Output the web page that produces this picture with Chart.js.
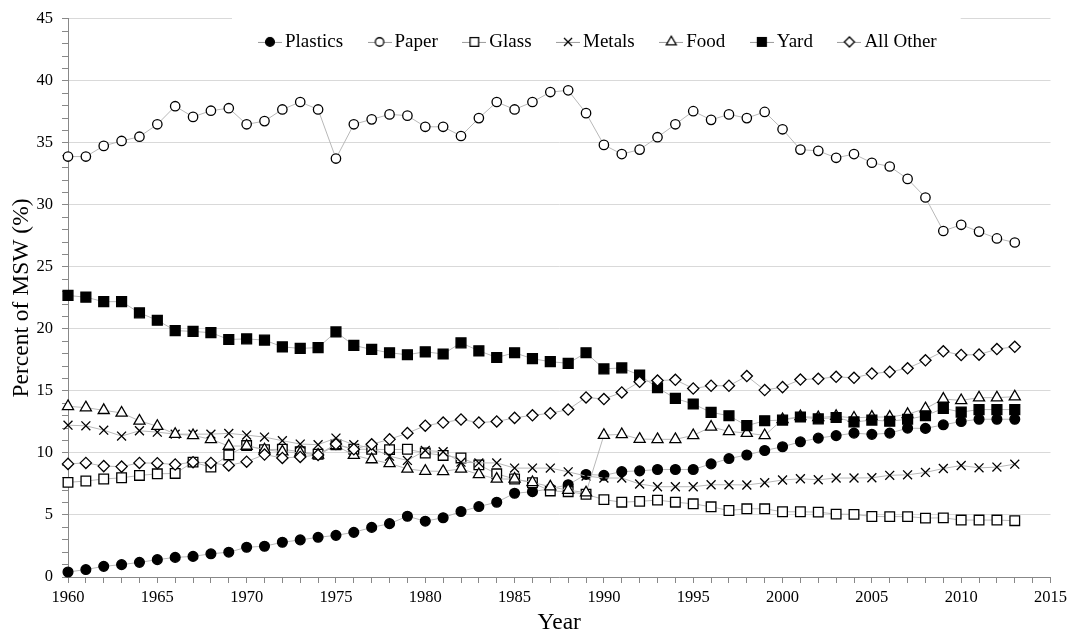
<!DOCTYPE html>
<html>
<head>
<meta charset="utf-8">
<script src="https://cdn.jsdelivr.net/npm/chart.js@4.4.1/dist/chart.umd.min.js"></script>
<style>
html,body{margin:0;padding:0;background:#fff;}
canvas{display:block;}
</style>
</head>
<body>
<canvas id="c" width="1072" height="639"></canvas>
<script>
const years = [1960,1961,1962,1963,1964,1965,1966,1967,1968,1969,
  1970,1971,1972,1973,1974,1975,1976,1977,1978,1979,
  1980,1981,1982,1983,1984,1985,1986,1987,1988,1989,
  1990,1991,1992,1993,1994,1995,1996,1997,1998,1999,
  2000,2001,2002,2003,2004,2005,2006,2007,2008,2009,
  2010,2011,2012,2013];

const seriesNames = ['Plastics','Paper','Glass','Metals','Food','Yard','All Other'];

const plastics = [0.4,0.6,0.86,1.0,1.18,1.4,1.58,1.66,1.87,2.0,
  2.4,2.48,2.8,2.99,3.2,3.36,3.6,4.0,4.3,4.9,
  4.5,4.78,5.28,5.68,6.03,6.75,6.88,7.12,7.44,8.27,
  8.2,8.5,8.56,8.67,8.67,8.67,9.12,9.55,9.84,10.2,
  10.5,10.9,11.2,11.4,11.6,11.5,11.6,12.0,11.98,12.27,
  12.54,12.72,12.72,12.72];

const paper = [33.9,33.9,34.76,35.16,35.5,36.5,37.96,37.1,37.6,37.8,
  36.5,36.76,37.7,38.3,37.7,33.74,36.5,36.9,37.3,37.2,
  36.3,36.3,35.56,37.0,38.3,37.7,38.3,39.1,39.24,37.4,
  34.84,34.1,34.46,35.46,36.5,37.56,36.86,37.3,37.0,37.5,
  36.1,34.46,34.36,33.8,34.1,33.4,33.1,32.1,30.6,27.9,
  28.4,27.85,27.3,26.97];

const glass = [7.63,7.74,7.9,8.0,8.19,8.32,8.35,9.26,8.86,9.84,
  10.6,10.27,10.3,10.1,9.9,10.67,10.3,10.3,10.27,10.3,
  10.0,9.8,9.6,9.04,8.32,7.9,7.6,6.94,6.88,6.67,
  6.24,6.03,6.1,6.2,6.03,5.9,5.66,5.36,5.5,5.5,
  5.26,5.26,5.23,5.07,5.05,4.88,4.87,4.87,4.75,4.77,
  4.59,4.59,4.59,4.54];

const metals = [12.24,12.19,11.84,11.36,11.79,11.68,11.52,11.52,11.52,11.58,
  11.44,11.28,10.99,10.72,10.67,11.2,10.67,10.4,9.74,9.4,
  10.2,10.1,9.26,9.2,9.2,8.78,8.78,8.78,8.48,8.14,
  7.98,7.98,7.5,7.28,7.28,7.28,7.44,7.44,7.42,7.6,
  7.82,7.92,7.84,7.98,7.98,8.0,8.2,8.24,8.43,8.75,
  8.99,8.8,8.86,9.1];

const food = [13.76,13.66,13.44,13.23,12.59,12.16,11.52,11.42,11.1,10.56,
  10.56,10.27,10.1,10.0,9.84,10.6,9.82,9.47,9.15,8.72,
  8.54,8.52,8.72,8.27,7.9,7.9,7.63,7.28,7.0,6.8,
  11.44,11.5,11.12,11.1,11.1,11.42,12.1,11.74,11.6,11.42,
  12.7,12.94,12.86,12.96,12.83,12.9,12.9,13.12,13.58,14.35,
  14.24,14.46,14.46,14.54];

const yard = [22.7,22.56,22.2,22.2,21.3,20.7,19.87,19.8,19.7,19.15,
  19.2,19.1,18.56,18.43,18.5,19.76,18.67,18.35,18.08,17.92,
  18.16,17.98,18.88,18.24,17.7,18.08,17.6,17.36,17.23,18.08,
  16.78,16.86,16.27,15.26,14.4,13.95,13.28,13.0,12.2,12.6,
  12.65,12.9,12.75,12.86,12.5,12.65,12.56,12.72,13.0,13.6,
  13.3,13.5,13.5,13.5];

const allOther = [9.12,9.2,8.94,8.9,9.2,9.18,9.07,9.26,9.2,9.0,
  9.3,9.87,9.6,9.68,9.84,10.72,10.3,10.7,11.1,11.6,
  12.2,12.45,12.7,12.45,12.54,12.83,13.04,13.2,13.5,14.48,
  14.35,14.88,15.74,15.84,15.9,15.2,15.42,15.42,16.2,15.07,
  15.31,15.92,15.98,16.14,16.06,16.4,16.54,16.83,17.47,18.2,
  17.9,17.93,18.38,18.56];

const xTickLabels = ['1960','1965','1970','1975','1980','1985','1990','1995','2000','2005','2010','2015'];
const yTickLabels = ['0','5','10','15','20','25','30','35','40','45'];

const seriesValues = [plastics, paper, glass, metals, food, yard, allOther];
const markerStyles = [
  {pointStyle:'circle',   radius:4.9, fill:'#000000'},
  {pointStyle:'circle',   radius:4.7, fill:'#ffffff'},
  {pointStyle:'rect',     radius:6.8, fill:'#ffffff'},
  {pointStyle:'crossRot', radius:6.3, fill:'#ffffff'},
  {pointStyle:'triangle', radius:6.4, fill:'#ffffff'},
  {pointStyle:'rect',     radius:7.0, fill:'#000000'},
  {pointStyle:'rectRot',  radius:5.6, fill:'#ffffff'}
];

const SERIF = "'Liberation Serif','Times New Roman',serif";
const LINE_COLOR = '#b8b8b8';
const AXIS_COLOR = '#888888';

function makeLegendIcon(st) {
  const c = document.createElement('canvas');
  c.width = 24; c.height = 16;
  const g = c.getContext('2d');
  g.strokeStyle = '#9a9a9a'; g.lineWidth = 1;
  g.beginPath(); g.moveTo(0, 8.5); g.lineTo(24, 8.5); g.stroke();
  g.fillStyle = st.fill; g.strokeStyle = '#000'; g.lineWidth = 1.3;
  const opts = {pointStyle: st.pointStyle, radius: st.radius * 0.9, rotation: 0, borderWidth: 1.3};
  if (Chart.helpers && Chart.helpers.drawPoint) {
    Chart.helpers.drawPoint(g, opts, 12, 8);
  } else {
    g.beginPath(); g.arc(12, 8, 4, 0, Math.PI * 2); g.fill(); g.stroke();
  }
  return c;
}
const legendIcons = markerStyles.map(makeLegendIcon);

const datasets = seriesNames.map((name, i) => ({
  label: name,
  data: years.map((yr, k) => ({x: yr, y: seriesValues[i][k]})),
  borderColor: LINE_COLOR,
  borderWidth: 1,
  pointStyle: markerStyles[i].pointStyle,
  pointRadius: markerStyles[i].radius,
  pointBackgroundColor: markerStyles[i].fill,
  pointBorderColor: '#000000',
  pointBorderWidth: 1.3,
  tension: 0,
  fill: false,
  clip: false,
  order: seriesNames.length - i
}));

const legendPlacement = {
  id: 'legendPlacement',
  afterLayout(chart) {
    const lg = chart.legend;
    if (!lg) return;
    const ca = chart.chartArea;
    lg.left = ca.left + 165.5;
    lg.right = lg.left + 900;
    lg.top = ca.top - 17.5;
    lg.bottom = lg.top + 84;
  },
  beforeDatasetsDraw(chart) {
    const lg = chart.legend;
    if (!lg || !lg.legendHitBoxes || !lg.legendHitBoxes.length) return;
    const hb = lg.legendHitBoxes;
    const last = hb[hb.length - 1];
    const x0 = lg.left - 1.5;
    const x1 = last.left + last.width + 24;
    const ctx = chart.ctx;
    ctx.save();
    ctx.fillStyle = '#ffffff';
    ctx.fillRect(x0, 0, x1 - x0, chart.chartArea.top + 48);
    ctx.restore();
    lg.draw();
  }
};

new Chart(document.getElementById('c'), {
  type: 'line',
  data: { datasets },
  plugins: [legendPlacement],
  options: {
    responsive: false,
    animation: false,
    events: [],
    layout: { padding: { top: 13, right: 20, bottom: 0, left: 0 } },
    plugins: {
      tooltip: { enabled: false },
      legend: {
        display: true,
        position: 'top',
        align: 'start',
        maxHeight: 1,
        labels: {
          usePointStyle: true,
          pointStyleWidth: 11,
          padding: 31,
          color: '#000',
          font: { family: SERIF, size: 19 },
          generateLabels: (chart) => chart.data.datasets.map((ds, i) => ({
            text: ds.label,
            pointStyle: legendIcons[i],
            datasetIndex: i,
            hidden: false,
            fillStyle: '#000',
            strokeStyle: '#000',
            lineWidth: 0,
            fontColor: '#000'
          }))
        }
      }
    },
    scales: {
      x: {
        type: 'linear',
        min: 1960,
        max: 2015,
        afterFit(s) { s.height = 62; },
        ticks: {
          stepSize: 1,
          maxTicksLimit: 100,
          autoSkip: false,
          maxRotation: 0,
          minRotation: 0,
          padding: 5,
          color: '#000',
          font: { family: SERIF, size: 16.5 },
          callback: (v) => xTickLabels.includes(String(v)) ? String(v) : ''
        },
        grid: {
          display: true,
          drawOnChartArea: false,
          drawTicks: true,
          tickLength: 6,
          tickColor: AXIS_COLOR,
          tickWidth: 1
        },
        border: { display: true, color: AXIS_COLOR, width: 1 },
        title: {
          display: true,
          text: 'Year',
          color: '#000',
          font: { family: SERIF, size: 23.5 },
          padding: { top: 0, bottom: 2 }
        }
      },
      y: {
        type: 'linear',
        min: 0,
        max: 45,
        afterFit(s) { s.width = 68; },
        ticks: {
          stepSize: 1,
          maxTicksLimit: 100,
          autoSkip: false,
          padding: 9,
          color: '#000',
          font: { family: SERIF, size: 16.5 },
          callback: (v) => yTickLabels.includes(String(v)) ? String(v) : ''
        },
        grid: {
          display: true,
          drawOnChartArea: true,
          drawTicks: true,
          tickLength: 6,
          tickColor: AXIS_COLOR,
          lineWidth: 1,
          color: (ctx) => (ctx.tick && yTickLabels.includes(String(ctx.tick.value))) ? '#d9d9d9' : 'rgba(0,0,0,0)'
        },
        border: { display: true, color: AXIS_COLOR, width: 1 },
        title: {
          display: true,
          text: 'Percent of MSW (%)',
          color: '#000',
          font: { family: SERIF, size: 23.5 },
          padding: { top: 8, bottom: 0 }
        }
      }
    }
  }
});
</script>
</body>
</html>
